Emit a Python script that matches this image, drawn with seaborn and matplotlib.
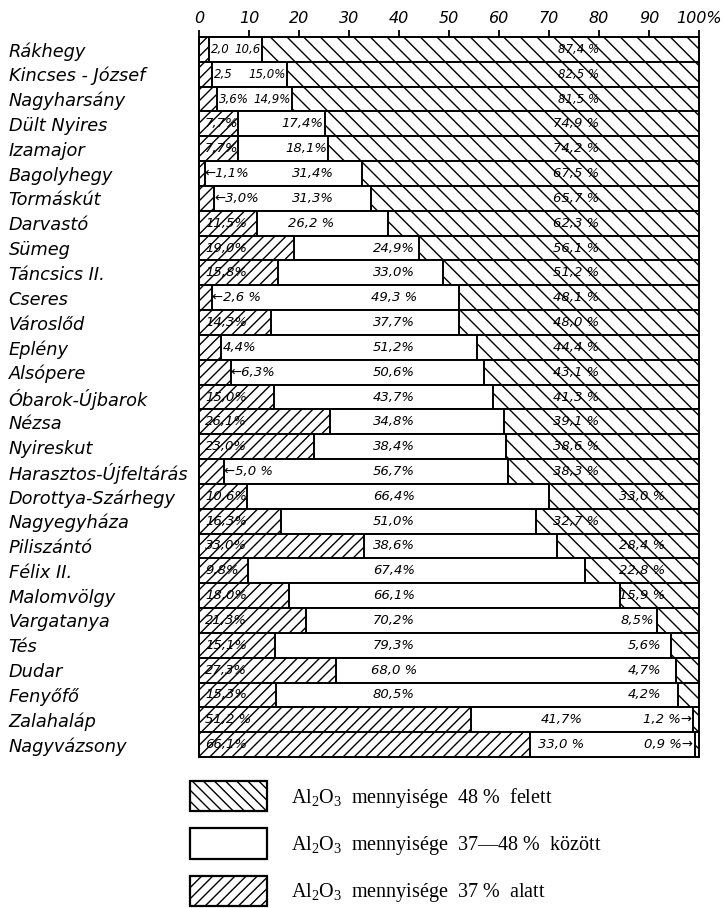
import numpy as np
import pandas as pd
import matplotlib
matplotlib.use("Agg")
import matplotlib.pyplot as plt
from matplotlib.patches import Patch
from matplotlib.font_manager import FontProperties
import seaborn as sns

sites = ["Rákhegy", "Kincses - József", "Nagyharsány", "Dült Nyires", "Izamajor",
         "Bagolyhegy", "Tormáskút", "Darvastó", "Sümeg", "Táncsics II.", "Cseres",
         "Városlőd", "Eplény", "Alsópere", "Óbarok-Újbarok", "Nézsa", "Nyireskut",
         "Harasztos-Újfeltárás", "Dorottya-Szárhegy", "Nagyegyháza", "Piliszántó",
         "Félix II.", "Malomvölgy", "Vargatanya", "Tés", "Dudar", "Fenyőfő",
         "Zalahaláp", "Nagyvázsony"]

alatt = [2.0, 2.5, 3.6, 7.7, 7.7, 1.1, 3.0, 11.5, 19.0, 15.8, 2.6, 14.3, 4.4, 6.3,
         15.0, 26.1, 23.0, 5.0, 10.6, 16.3, 33.0, 9.8, 18.0, 21.3, 15.1, 27.3, 15.3,
         51.2, 66.1]
kozott = [10.6, 15.0, 14.9, 17.4, 18.1, 31.4, 31.3, 26.2, 24.9, 33.0, 49.3, 37.7,
          51.2, 50.6, 43.7, 34.8, 38.4, 56.7, 66.4, 51.0, 38.6, 67.4, 66.1, 70.2,
          79.3, 68.0, 80.5, 41.7, 33.0]
felett = [87.4, 82.5, 81.5, 74.9, 74.2, 67.5, 65.7, 62.3, 56.1, 51.2, 48.1, 48.0,
          44.4, 43.1, 41.3, 39.1, 38.6, 38.3, 33.0, 32.7, 28.4, 22.8, 15.9, 8.5,
          5.6, 4.7, 4.2, 1.2, 0.9]

alatt_labels = ["2,0", "2,5", "3,6%", "7,7%", "7,7%", "←1,1%", "←3,0%", "11,5%",
                "19,0%", "15,8%", "←2,6 %", "14,3%", "4,4%", "←6,3%", "15,0%",
                "26,1%", "23,0%", "←5,0 %", "10,6%", "16,3%", "33,0%", "9,8%",
                "18,0%", "21,3%", "15,1%", "27,3%", "15,3%", "51,2 %", "66,1%"]
kozott_labels = ["10,6", "15,0%", "14,9%", "17,4%", "18,1%", "31,4%", "31,3%",
                 "26,2 %", "24,9%", "33,0%", "49,3 %", "37,7%", "51,2%", "50,6%",
                 "43,7%", "34,8%", "38,4%", "56,7%", "66,4%", "51,0%", "38,6%",
                 "67,4%", "66,1%", "70,2%", "79,3%", "68,0 %", "80,5%", "41,7%",
                 "33,0 %"]
felett_labels = ["87,4 %", "82,5 %", "81,5 %", "74,9 %", "74,2 %", "67,5 %",
                 "65,7 %", "62,3 %", "56,1 %", "51,2 %", "48,1 %", "48,0 %",
                 "44,4 %", "43,1 %", "41,3 %", "39,1 %", "38,6 %", "38,3 %",
                 "33,0 %", "32,7 %", "28,4 %", "22,8 %", "15,9 %", "8,5%", "5,6%",
                 "4,7%", "4,2%", "1,2 %→", "0,9 %→"]

x_ticks = [0, 10, 20, 30, 40, 50, 60, 70, 80, 90, 100]
x_ticklabels = ["0", "10", "20", "30", "40", "50", "60", "70", "80", "90", "100%"]

legend_labels = [r"Al$_\mathrm{2}$O$_\mathrm{3}$  mennyisége  48 %  felett",
                 r"Al$_\mathrm{2}$O$_\mathrm{3}$  mennyisége  37—48 %  között",
                 r"Al$_\mathrm{2}$O$_\mathrm{3}$  mennyisége  37 %  alatt"]

plt.rcParams["mathtext.fontset"] = "custom"
plt.rcParams["mathtext.rm"] = "Liberation Serif"
plt.rcParams["mathtext.it"] = "Liberation Serif:italic"
plt.rcParams["hatch.linewidth"] = 1.0
plt.rcParams["font.family"] = ["DejaVu Sans"]

# stacked shares (drawn as share of the row total)
a = np.array(alatt)
b = np.array(kozott)
c = np.array(felett)
tot = a + b + c
a_n = a / tot * 100
b_n = b / tot * 100
c_n = c / tot * 100
e1 = a_n
e2 = a_n + b_n

df = pd.DataFrame({"site": sites, "l1": a_n, "l2": e2, "l3": e2 + c_n})

fig = plt.figure(figsize=(7.26, 9.08), dpi=100)
ax = fig.add_axes([199 / 726, 1 - 757 / 908, 500 / 726, 720 / 908])

common = dict(y="site", orient="h", order=sites, width=1.0, saturation=1,
              color="white", edgecolor="black", linewidth=1.4, errorbar=None, ax=ax)
sns.barplot(data=df, x="l3", hatch="\\\\", **common)
sns.barplot(data=df, x="l2", **common)
sns.barplot(data=df, x="l1", hatch="///", **common)

for p in ax.patches:
    p.set_clip_on(False)

ax.set_xlim(0, 100)
ax.set_ylim(len(sites) - 0.5, -0.5)
for s in ax.spines.values():
    s.set_visible(False)
ax.set_xlabel("")
ax.set_ylabel("")

ax.xaxis.tick_top()
ax.set_xticks(x_ticks)
ax.set_xticklabels(x_ticklabels, fontsize=11.5, style="italic")
ax.tick_params(axis="x", direction="out", length=5, width=1.3, pad=3)

ax.set_yticks(range(len(sites)))
ax.set_yticklabels(sites, fontsize=12.8, style="italic", ha="left")
ax.tick_params(axis="y", length=0, pad=137)

for i in range(len(sites)):
    fs = 8.5 if b_n[i] < 16 else 9.5
    kw = dict(va="center", fontsize=fs, style="italic")
    # alatt
    lab = alatt_labels[i]
    if lab.startswith("←"):
        ax.text(e1[i], i, lab, ha="left", **kw)
    elif a[i] < 7:
        ax.text(e1[i] + 0.4, i, lab, ha="left", **kw)
    else:
        ax.text(1.2, i, lab, ha="left", **kw)
    # kozott
    lab = kozott_labels[i]
    if e2[i] < 30:
        ax.text(e2[i] - 0.2, i, lab, ha="right", **kw)
    elif e1[i] > 35:
        ax.text(72.5, i, lab, ha="center", **kw)
    elif e2[i] < 40:
        ax.text(27, i, lab, ha="right", **kw)
    else:
        ax.text(39, i, lab, ha="center", **kw)
    # felett
    lab = felett_labels[i]
    if lab.endswith("→"):
        ax.text(e2[i] - 0.2, i, lab, ha="right", **kw)
    elif e2[i] < 70:
        ax.text(80, i, lab, ha="right", **kw)
    elif c[i] >= 10:
        ax.text(93.2, i, lab, ha="right", **kw)
    else:
        ax.text(min(e2[i] - 0.4, 92.5), i, lab, ha="right", **kw)

handles = [Patch(facecolor="white", edgecolor="black", hatch="\\\\\\", linewidth=1.6),
           Patch(facecolor="white", edgecolor="black", linewidth=1.6),
           Patch(facecolor="white", edgecolor="black", hatch="///", linewidth=1.6)]
lfs = 14.5
px = lfs * 100 / 72
fig.legend(handles=handles, labels=legend_labels, loc="upper left",
           bbox_to_anchor=(190 / 726, 1 - 781 / 908), bbox_transform=fig.transFigure,
           frameon=False, borderpad=0, borderaxespad=0,
           handlelength=77 / px, handleheight=32 / px + 0.35,
           labelspacing=17 / px, handletextpad=24 / px,
           prop=FontProperties(family="Liberation Serif", size=lfs))

fig.savefig("out.png", dpi=100)
